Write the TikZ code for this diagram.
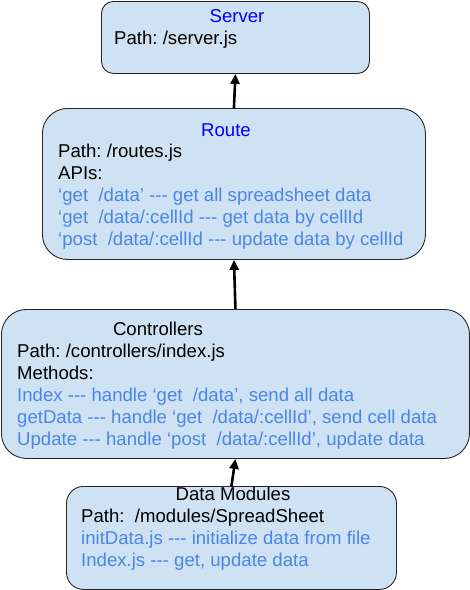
\documentclass[tikz,border=0pt]{standalone}
\usepackage{fontspec}
\setmainfont{Liberation Sans}[Ligatures=TeXOff]
\usetikzlibrary{arrows.meta}
\definecolor{boxfill}{HTML}{CFE2F3}
\definecolor{apiblue}{HTML}{4A86E8}
\definecolor{titleblue}{HTML}{0000FF}
\frenchspacing

\begin{document}
\begin{tikzpicture}[x=1pt, y=-1pt, layer/.style={draw=black!85, fill=boxfill, line width=0.9pt, anchor=north west, inner sep=0pt}, txt/.style={anchor=base west, inner sep=0pt, font=\fontsize{18.6}{22}\selectfont\frenchspacing}, ttl/.style={txt, anchor=base}, api/.style={txt, text=apiblue}, arr/.style={-{Triangle[length=10pt,width=9pt]}, line width=2.6pt}]
\useasboundingbox (0,0) rectangle (470,590);
% boxes
\node[layer, minimum width=268pt, minimum height=72pt, rounded corners=12pt] (server) at (101,1) {};
\node[layer, minimum width=383pt, minimum height=151pt, rounded corners=25pt] (route) at (42,108) {};
\node[layer, minimum width=468pt, minimum height=149pt, rounded corners=25pt] (ctl) at (1,309) {};
\node[layer, minimum width=330pt, minimum height=103pt, rounded corners=17pt] (data) at (66,486) {};
% arrows
\draw[arr] (route.north) -- (server.south);
\draw[arr] (ctl.north) -- (route.south);
\draw[arr] (data.north) -- (ctl.south);
% server
\node[ttl, text=titleblue] (server-t) at (237,22) {Server};
\node[txt] (server-p) at (114,44) {Path: /server.js};
% route
\node[ttl, text=titleblue] (route-t) at (226,136) {Route};
\foreach \t [count=\i] in {Path: /routes.js, APIs:}
  \node[txt] (route-p\i) at (58,135+22*\i) {\t};
\foreach \t [count=\i] in {‘get\ \ /data’ --- get all spreadsheet data, ‘get\ \ /data/:cellId --- get data by cellId, ‘post\ \ /data/:cellId --- update data by cellId}
  \node[api] (route-a\i) at (58,179+22*\i) {\t};
% controllers
\node[ttl] (ctl-t) at (158,335) {Controllers};
\foreach \t [count=\i] in {Path: /controllers/index.js, Methods:}
  \node[txt] (ctl-p\i) at (17,335+22*\i) {\t};
\foreach \t [count=\i] in {{Index --- handle ‘get\ \ /data’, send all data}, {getData --- handle ‘get\ \ /data/:cellId’, send cell data}, {Update --- handle ‘post\ \ /data/:cellId’, update data}}
  \node[api] (ctl-a\i) at (17,379+22*\i) {\t};
% data modules
\node[ttl] (data-t) at (233,500) {Data Modules};
\node[txt] (data-p) at (81,522) {Path:\ \ /modules/SpreadSheet};
\foreach \t [count=\i] in {initData.js --- initialize data from file, {Index.js --- get, update data}}
  \node[api] (data-a\i) at (81,522+22*\i) {\t};
\end{tikzpicture}
\end{document}
